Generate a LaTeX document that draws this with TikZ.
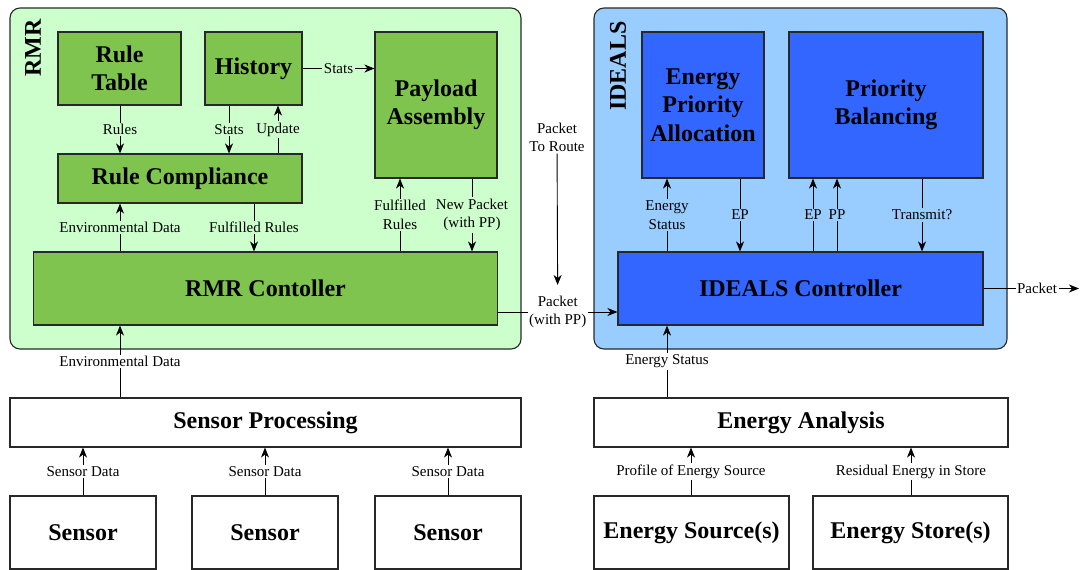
\documentclass[tikz,border=0pt]{standalone}
\usepackage{fontspec}
\setmainfont{Liberation Serif}
\usetikzlibrary{arrows.meta}

\definecolor{rmrbg}{RGB}{204,255,204}
\definecolor{rmrbox}{RGB}{128,196,80}
\definecolor{idbg}{RGB}{153,204,255}
\definecolor{idbox}{RGB}{51,102,255}
\definecolor{edge}{RGB}{40,40,40}

\tikzset{
  group/.style={draw=edge, line width=1.1pt, rounded corners=10pt, inner sep=0pt},
  block/.style={draw=edge, line width=1.1pt, inner sep=0pt, align=center,
    font=\fontsize{24}{28.5}\selectfont\bfseries},
  greenblock/.style={block, fill=rmrbox},
  blueblock/.style={block, fill=idbox},
  plainblock/.style={block, fill=white},
  arr/.style={line width=0.9pt, -{Stealth[length=10pt,width=8pt,inset=3pt]}},
  lbl/.style={font=\fontsize{15}{18.5}\selectfont, inner sep=1.5pt, align=center},
  grouptitle/.style={rotate=90, font=\fontsize{24}{28}\selectfont\bfseries}
}

\begin{document}
\begin{tikzpicture}[x=1pt,y=-1pt]
\useasboundingbox (0,0) rectangle (1084,570);

% ---- group panels
\node[group, fill=rmrbg, minimum width=511pt, minimum height=341pt] (rmr) at (265.5,178.5) {};
\node[group, fill=idbg, minimum width=413pt, minimum height=341pt] (ideals) at (800.5,178.5) {};
\node[grouptitle] (rmrtitle) at (33,48) {RMR};
\node[grouptitle] (idealstitle) at (618,66) {IDEALS};

% ---- RMR blocks
\node[greenblock, minimum width=123pt, minimum height=73pt] (ruletable) at (119.5,68.5) {Rule\\Table};
\node[greenblock, minimum width=97pt, minimum height=73pt] (history) at (253.5,68.5) {History};
\node[greenblock, minimum width=122pt, minimum height=146pt] (payload) at (436,105) {Payload\\Assembly};
\node[greenblock, minimum width=244pt, minimum height=49pt] (compliance) at (180,178.5) {Rule Compliance};
\node[greenblock, minimum width=464pt, minimum height=73pt] (rmrctrl) at (265.5,288.5) {RMR Contoller};

% ---- IDEALS blocks
\node[blueblock, minimum width=122pt, minimum height=146pt] (epa) at (703,105) {Energy\\Priority\\Allocation};
\node[blueblock, minimum width=194pt, minimum height=146pt] (pb) at (886,105) {Priority\\Balancing};
\node[blueblock, minimum width=365pt, minimum height=73pt] (idctrl) at (800.5,288.5) {IDEALS Controller};

% ---- lower blocks
\node[plainblock, minimum width=511pt, minimum height=49pt] (sensproc) at (265.5,422.5) {Sensor Processing};
\node[plainblock, minimum width=146pt, minimum height=73pt] (sensorA) at (83,532.5) {Sensor};
\node[plainblock, minimum width=146pt, minimum height=73pt] (sensorB) at (265,532.5) {Sensor};
\node[plainblock, minimum width=146pt, minimum height=73pt] (sensorC) at (448,532.5) {Sensor};
\node[plainblock, minimum width=414pt, minimum height=49pt] (eanal) at (801,422.5) {Energy Analysis};
\node[plainblock, minimum width=195pt, minimum height=73pt] (esrc) at (691.5,532.5) {Energy Source(s)};
\node[plainblock, minimum width=195pt, minimum height=73pt] (estore) at (910.5,532.5) {Energy Store(s)};

% ---- connector columns and rows
\coordinate (cRules) at (120,0);
\coordinate (cStat) at (229,0);
\coordinate (cUpd) at (278,0);
\coordinate (cFul) at (254,0);
\coordinate (cFulB) at (400,0);
\coordinate (cNew) at (472,0);
\coordinate (cSA) at (83,0);
\coordinate (cSB) at (265,0);
\coordinate (cSC) at (448,0);
\coordinate (cEs) at (667,0);
\coordinate (cEp) at (740,0);
\coordinate (cEpB) at (813,0);
\coordinate (cPp) at (837,0);
\coordinate (cTx) at (922,0);
\coordinate (cProf) at (691,0);
\coordinate (cRes) at (911,0);
\coordinate (rPk) at (0,312);
\coordinate (pout) at (1079,288.5);

% ---- RMR connectors
\draw[arr] (cRules |- ruletable.south) -- node[lbl, fill=rmrbg]{Rules} (cRules |- compliance.north);
\draw[arr] (cStat |- history.south) -- node[lbl, fill=rmrbg]{Stats} (cStat |- compliance.north);
\draw[arr] (cUpd |- compliance.north) -- node[lbl, fill=rmrbg]{Update} (cUpd |- history.south);
\draw[arr] (history.east) -- node[lbl, fill=rmrbg]{Stats} (history.east -| payload.west);
\draw[arr] (cRules |- rmrctrl.north) -- node[lbl, fill=rmrbg]{Environmental Data} (cRules |- compliance.south);
\draw[arr] (cFul |- compliance.south) -- node[lbl, fill=rmrbg]{Fulfilled Rules} (cFul |- rmrctrl.north);
\draw[arr] (cFulB |- rmrctrl.north) -- node[lbl, fill=rmrbg]{Fulfilled\\Rules} (cFulB |- payload.south);
\draw[arr] (cNew |- payload.south) -- node[lbl, fill=rmrbg]{New Packet\\(with PP)} (cNew |- rmrctrl.north);

% ---- sensing chain
\draw[arr] (cRules |- sensproc.north) -- node[lbl, fill=white]{Environmental Data} (cRules |- rmrctrl.south);
\draw[arr] (cSA |- sensorA.north) -- node[lbl, fill=white]{Sensor Data} (cSA |- sensproc.south);
\draw[arr] (cSB |- sensorB.north) -- node[lbl, fill=white]{Sensor Data} (cSB |- sensproc.south);
\draw[arr] (cSC |- sensorC.north) -- node[lbl, fill=white]{Sensor Data} (cSC |- sensproc.south);

% ---- packet hand-over
\draw[arr] (rPk -| rmrctrl.east) -- node[lbl, fill=white] (pwp) {Packet\\(with PP)} (rPk -| idctrl.west);
\node[lbl] (ptr) at (557,137.5) {Packet\\To Route};
\draw[arr, shorten >=9pt] (ptr) -- (pwp);

% ---- IDEALS connectors
\draw[arr] (cEs |- idctrl.north) -- node[lbl, fill=idbg]{Energy\\Status} (cEs |- epa.south);
\draw[arr] (cEp |- epa.south) -- node[lbl, fill=idbg]{EP} (cEp |- idctrl.north);
\draw[arr] (cEpB |- idctrl.north) -- node[lbl, fill=idbg]{EP} (cEpB |- pb.south);
\draw[arr] (cPp |- idctrl.north) -- node[lbl, fill=idbg]{PP} (cPp |- pb.south);
\draw[arr] (cTx |- pb.south) -- node[lbl, fill=idbg]{Transmit?} (cTx |- idctrl.north);
\draw[arr] (idctrl.east) -- node[lbl, fill=white, pos=0.56]{Packet} (pout);

% ---- energy chain
\draw[arr] (cEs |- eanal.north) -- node[lbl, fill=white]{Energy Status} (cEs |- idctrl.south);
\draw[arr] (cProf |- esrc.north) -- node[lbl, fill=white]{Profile of Energy Source} (cProf |- eanal.south);
\draw[arr] (cRes |- estore.north) -- node[lbl, fill=white]{Residual Energy in Store} (cRes |- eanal.south);
\end{tikzpicture}
\end{document}
